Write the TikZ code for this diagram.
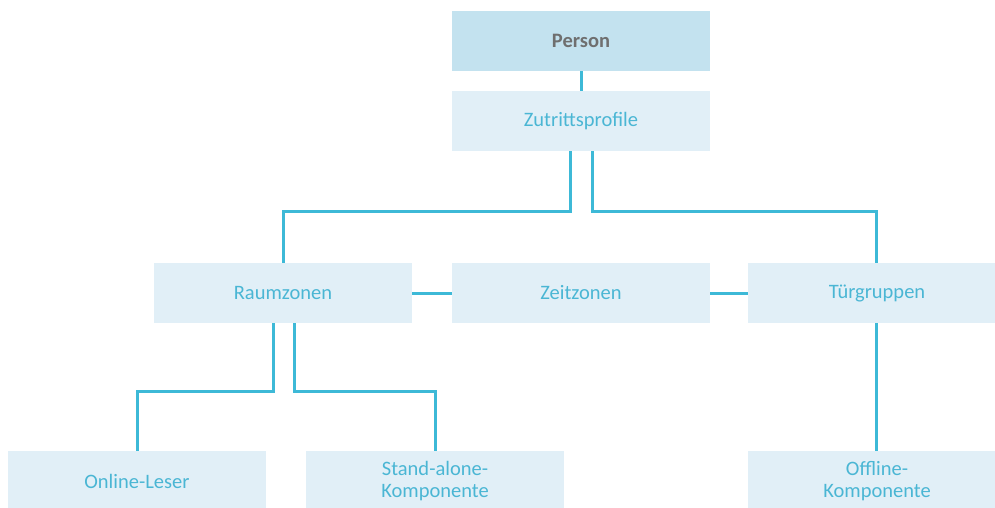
\documentclass[tikz,border=0pt]{standalone}
\usepackage{fontspec}
\setmainfont{Carlito}
\definecolor{linec}{HTML}{3DB9D7}
\definecolor{txtc}{HTML}{4AB6D4}
\definecolor{boxlight}{HTML}{E1EFF7}
\definecolor{boxdark}{HTML}{C3E2EF}
\definecolor{grayt}{HTML}{6F6F6F}
\begin{document}
\begin{tikzpicture}[x=1pt,y=-1pt,
  box/.style={rectangle, fill=boxlight, minimum width=258pt, minimum height=60pt,
    inner sep=0pt, text=txtc, align=center, font=\fontsize{20.5}{22}\selectfont},
  topbox/.style={box, fill=boxdark, text=grayt, font=\fontsize{20.5}{22}\selectfont\bfseries},
  conn/.style={draw=linec, line width=3pt}]
\useasboundingbox (0,0) rectangle (995,507);
\clip (0,0) rectangle (995,507);
\node[topbox] (person) at (581,41) {Person};
\node[box] (zut) at (581,121) {Zutrittsprofile};
\node[box] (raum) at (283,293) {Raumzonen};
\node[box] (zeit) at (581,293) {Zeitzonen};
\node[box] (tuer) at (877,293) {Türgruppen};
\node[box] (online) at (137,481) {Online-Leser};
\node[box] (stand) at (435,481) {Stand-alone-\\Komponente};
\node[box] (offline) at (877,481) {Offline-\\Komponente};
\draw[conn] (person) -- (zut);
\draw[conn] ([xshift=-11pt]zut.south) -- ++(0,60) -| (raum.north);
\draw[conn] ([xshift=11pt]zut.south) -- ++(0,60) -| ([xshift=-1pt]tuer.north);
\draw[conn] (raum) -- (zeit);
\draw[conn] (zeit) -- (tuer);
\draw[conn] ([xshift=-10pt]raum.south) -- ++(0,68) -| (online.north);
\draw[conn] ([xshift=11pt]raum.south) -- ++(0,68) -| (stand.north);
\draw[conn] ([xshift=-1pt]tuer.south) -- ([xshift=-1pt]offline.north);
\end{tikzpicture}
\end{document}
